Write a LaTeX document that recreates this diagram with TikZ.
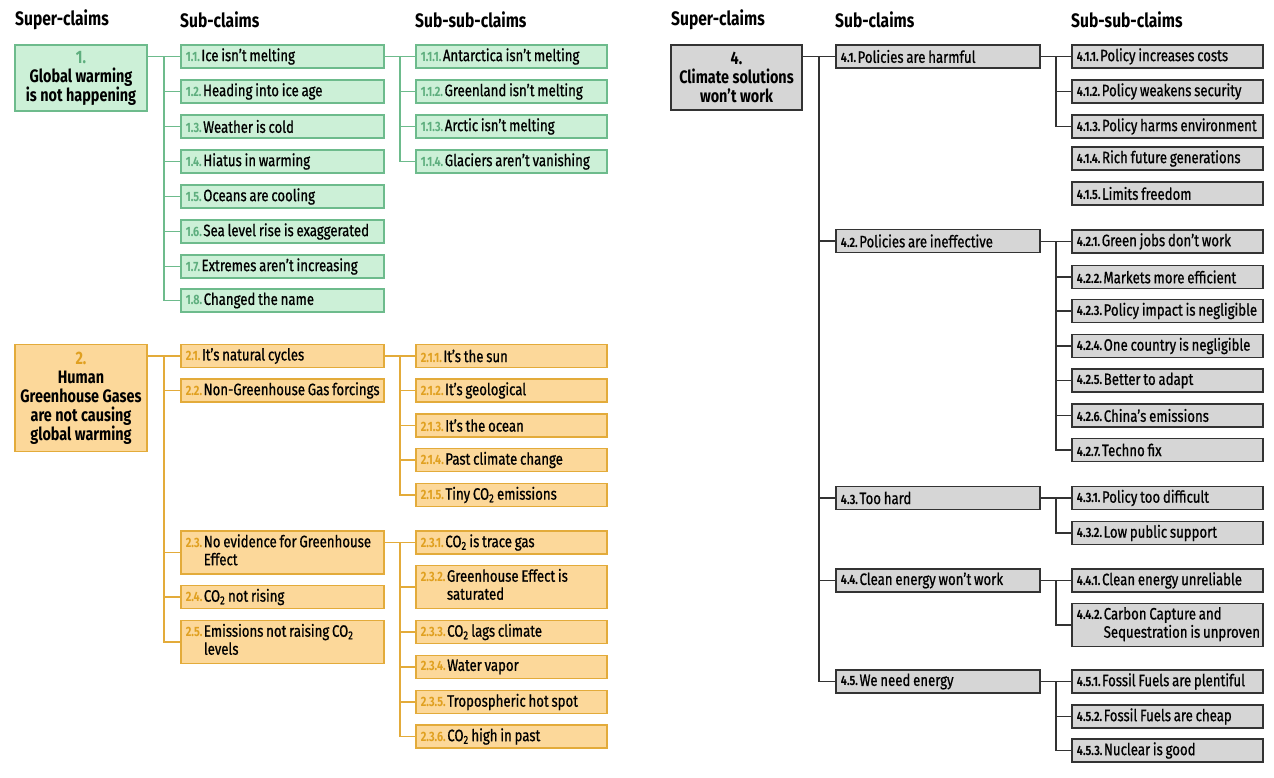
\documentclass[tikz,border=0pt]{standalone}
\usepackage{fontspec}
\setmainfont{Fira Sans}[FakeStretch=0.8, UprightFeatures={FakeBold=0.8}]
\usetikzlibrary{calc}
\definecolor{gfill}{HTML}{CCF0D7}
\definecolor{gline}{HTML}{6DBB8C}
\definecolor{gnum}{HTML}{5EAE7E}
\definecolor{ofill}{HTML}{FCD89A}
\definecolor{oline}{HTML}{E3AB3A}
\definecolor{onum}{HTML}{E0A020}
\definecolor{kfill}{HTML}{D6D6D6}
\definecolor{kline}{HTML}{333333}
\newcommand{\tsp}{\spaceskip=2.8pt plus 1pt minus 0.5pt\relax}
\newcommand{\tspb}{\spaceskip=3.5pt plus 1pt minus 0.5pt\relax}
\newcommand{\nmf}[1]{{\bfseries\fontsize{13.5}{14}\selectfont #1}\hspace{1.5pt}}
\newcommand{\gn}[1]{\textcolor{gnum}{\nmf{#1}}}
\newcommand{\on}[1]{\textcolor{onum}{\nmf{#1}}}
\newcommand{\kn}[1]{\textcolor{black}{\nmf{#1}}}
\newcommand{\two}[2]{\begin{tabular}[t]{@{}l@{}}#1\\#2\end{tabular}}
\newcommand{\sbx}[1]{\makebox[193pt][l]{#1}}
\newcommand{\ssbx}[1]{\makebox[181pt][l]{#1}}
\newcommand{\kbx}[1]{\makebox[194pt][l]{#1}}
\newcommand{\fan}[4]{%
  \draw[#1] (#2.east |- #3.west) -- (#3.west);
  \coordinate (tmp) at ($(#2.east |- #3.west)!.5!(#3.west)$);
  \foreach \cc in {#4} {\draw[#1] (tmp) |- (\cc.west);}
}
\tikzset{
  hdr/.style={anchor=west, font=\bfseries\fontsize{19.5}{22}\selectfont, inner sep=0pt},
  bx/.style={anchor=west, minimum height=23pt, inner xsep=5pt, inner ysep=1pt,
    font=\fontsize{16.5}{18}\selectfont\tsp},
  sup/.style={minimum width=132pt, align=center, inner sep=0pt,
    font=\bfseries\fontsize{18}{19}\selectfont\tspb},
  gb/.style={bx, draw=gline, fill=gfill, line width=1.5pt},
  ob/.style={bx, draw=oline, fill=ofill, line width=1.5pt},
  kb/.style={bx, draw=kline, fill=kfill, line width=1.8pt},
  gc/.style={draw=gline, line width=1.6pt},
  oc/.style={draw=oline, line width=1.6pt},
  kc/.style={draw=kline, line width=1.7pt},
}
\begin{document}
\begin{tikzpicture}[x=1pt, y=-1pt]
\useasboundingbox (0,0) rectangle (1274,778);
% headers
\node[hdr] (h1) at (15,20) {Super-claims};
\node[hdr] (h2) at (180,20) {Sub-claims};
\node[hdr] (h3) at (415,20) {Sub-sub-claims};
\node[hdr] (h4) at (671,20) {Super-claims};
\node[hdr] (h5) at (835,20) {Sub-claims};
\node[hdr] (h6) at (1071,20) {Sub-sub-claims};
% ---------- green ----------
\node[sup, draw=gline, fill=gfill, line width=1.5pt, minimum height=66pt] (g1) at (81,78)
  {\textcolor{gnum}{1.}\\Global warming\\is not happening};
\node[gb] (g11) at (180,56.5) {\sbx{\gn{1.1.}Ice isn’t melting}};
\node[gb] (g12) at (180,91.5) {\sbx{\gn{1.2.}Heading into ice age}};
\node[gb] (g13) at (180,126.5) {\sbx{\gn{1.3.}Weather is cold}};
\node[gb] (g14) at (180,161.5) {\sbx{\gn{1.4.}Hiatus in warming}};
\node[gb] (g15) at (180,196.5) {\sbx{\gn{1.5.}Oceans are cooling}};
\node[gb] (g16) at (180,231.5) {\sbx{\gn{1.6.}Sea level rise is exaggerated}};
\node[gb] (g17) at (180,266.5) {\sbx{\gn{1.7.}Extremes aren’t increasing}};
\node[gb] (g18) at (180,300.5) {\sbx{\gn{1.8.}Changed the name}};
\node[gb] (g111) at (415,56.5) {\ssbx{\gn{1.1.1.}Antarctica isn’t melting}};
\node[gb] (g112) at (415,91.5) {\ssbx{\gn{1.1.2.}Greenland isn’t melting}};
\node[gb] (g113) at (415,126.5) {\ssbx{\gn{1.1.3.}Arctic isn’t melting}};
\node[gb] (g114) at (415,161.5) {\ssbx{\gn{1.1.4.}Glaciers aren’t vanishing}};
\fan{gc}{g1}{g11}{g12,g13,g14,g15,g16,g17,g18}
\fan{gc}{g11}{g111}{g112,g113,g114}
% ---------- orange ----------
\node[sup, draw=oline, fill=ofill, line width=1.5pt, minimum height=107pt] (o2) at (81,398)
  {\textcolor{onum}{2.}\\Human\\Greenhouse Gases\\are not causing\\global warming};
\node[ob] (o21) at (180,356) {\sbx{\on{2.1.}It’s natural cycles}};
\node[ob] (o22) at (180,390.5) {\sbx{\on{2.2.}Non-Greenhouse Gas forcings}};
\node[ob, minimum height=43pt] (o23) at (180,552.5) {\sbx{\on{2.3.}\two{No evidence for Greenhouse}{Effect}}};
\node[ob] (o24) at (180,597) {\sbx{\on{2.4.}CO\textsubscript{2} not rising}};
\node[ob, minimum height=43pt] (o25) at (180,642) {\sbx{\on{2.5.}\two{Emissions not raising CO\textsubscript{2}}{levels}}};
\node[ob] (o211) at (415,356) {\ssbx{\on{2.1.1.}It’s the sun}};
\node[ob] (o212) at (415,390.5) {\ssbx{\on{2.1.2.}It’s geological}};
\node[ob] (o213) at (415,425.5) {\ssbx{\on{2.1.3.}It’s the ocean}};
\node[ob] (o214) at (415,460) {\ssbx{\on{2.1.4.}Past climate change}};
\node[ob] (o215) at (415,495) {\ssbx{\on{2.1.5.}Tiny CO\textsubscript{2} emissions}};
\node[ob] (o231) at (415,542.5) {\ssbx{\on{2.3.1.}CO\textsubscript{2} is trace gas}};
\node[ob, minimum height=43pt] (o232) at (415,587) {\ssbx{\on{2.3.2.}\two{Greenhouse Effect is}{saturated}}};
\node[ob] (o233) at (415,632) {\ssbx{\on{2.3.3.}CO\textsubscript{2} lags climate}};
\node[ob] (o234) at (415,667) {\ssbx{\on{2.3.4.}Water vapor}};
\node[ob] (o235) at (415,702) {\ssbx{\on{2.3.5.}Tropospheric hot spot}};
\node[ob] (o236) at (415,736.5) {\ssbx{\on{2.3.6.}CO\textsubscript{2} high in past}};
\fan{oc}{o2}{o21}{o22,o23,o24,o25}
\fan{oc}{o21}{o211}{o212,o213,o214,o215}
\fan{oc}{o23}{o231}{o232,o233,o234,o235,o236}
% ---------- gray ----------
\node[sup, draw=kline, fill=kfill, line width=1.8pt, minimum height=65pt, minimum width=131pt] (k4) at (736.5,77.5)
  {4.\\Climate solutions\\won’t work};
\node[kb] (k41) at (835,56.5) {\kbx{\kn{4.1.}Policies are harmful}};
\node[kb] (k42) at (835,241) {\kbx{\kn{4.2.}Policies are ineffective}};
\node[kb] (k43) at (835,498) {\kbx{\kn{4.3.}Too hard}};
\node[kb] (k44) at (835,580.5) {\kbx{\kn{4.4.}Clean energy won’t work}};
\node[kb] (k45) at (835,681.5) {\kbx{\kn{4.5.}We need energy}};
\node[kb] (k411) at (1071,56.5) {\ssbx{\kn{4.1.1.}Policy increases costs}};
\node[kb] (k412) at (1071,91.5) {\ssbx{\kn{4.1.2.}Policy weakens security}};
\node[kb] (k413) at (1071,126.5) {\ssbx{\kn{4.1.3.}Policy harms environment}};
\node[kb] (k414) at (1071,158.5) {\ssbx{\kn{4.1.4.}Rich future generations}};
\node[kb] (k415) at (1071,193.5) {\ssbx{\kn{4.1.5.}Limits freedom}};
\node[kb] (k421) at (1071,241.5) {\ssbx{\kn{4.2.1.}Green jobs don’t work}};
\node[kb] (k422) at (1071,277) {\ssbx{\kn{4.2.2.}Markets more efficient}};
\node[kb] (k423) at (1071,311) {\ssbx{\kn{4.2.3.}Policy impact is negligible}};
\node[kb] (k424) at (1071,346) {\ssbx{\kn{4.2.4.}One country is negligible}};
\node[kb] (k425) at (1071,380.5) {\ssbx{\kn{4.2.5.}Better to adapt}};
\node[kb] (k426) at (1071,415.5) {\ssbx{\kn{4.2.6.}China’s emissions}};
\node[kb] (k427) at (1071,450) {\ssbx{\kn{4.2.7.}Techno fix}};
\node[kb] (k431) at (1071,498) {\ssbx{\kn{4.3.1.}Policy too difficult}};
\node[kb] (k432) at (1071,533) {\ssbx{\kn{4.3.2.}Low public support}};
\node[kb] (k441) at (1071,580.5) {\ssbx{\kn{4.4.1.}Clean energy unreliable}};
\node[kb, minimum height=43pt] (k442) at (1071,625) {\ssbx{\kn{4.4.2.}\two{Carbon Capture and}{Sequestration is unproven}}};
\node[kb] (k451) at (1071,681.5) {\ssbx{\kn{4.5.1.}Fossil Fuels are plentiful}};
\node[kb] (k452) at (1071,716.5) {\ssbx{\kn{4.5.2.}Fossil Fuels are cheap}};
\node[kb] (k453) at (1071,750.5) {\ssbx{\kn{4.5.3.}Nuclear is good}};
\fan{kc}{k4}{k41}{k42,k43,k44,k45}
\fan{kc}{k41}{k411}{k412,k413}
\fan{kc}{k42}{k421}{k422,k423,k424,k425,k426,k427}
\fan{kc}{k43}{k431}{k432}
\fan{kc}{k44}{k441}{k442}
\fan{kc}{k45}{k451}{k452,k453}
\end{tikzpicture}
\end{document}
